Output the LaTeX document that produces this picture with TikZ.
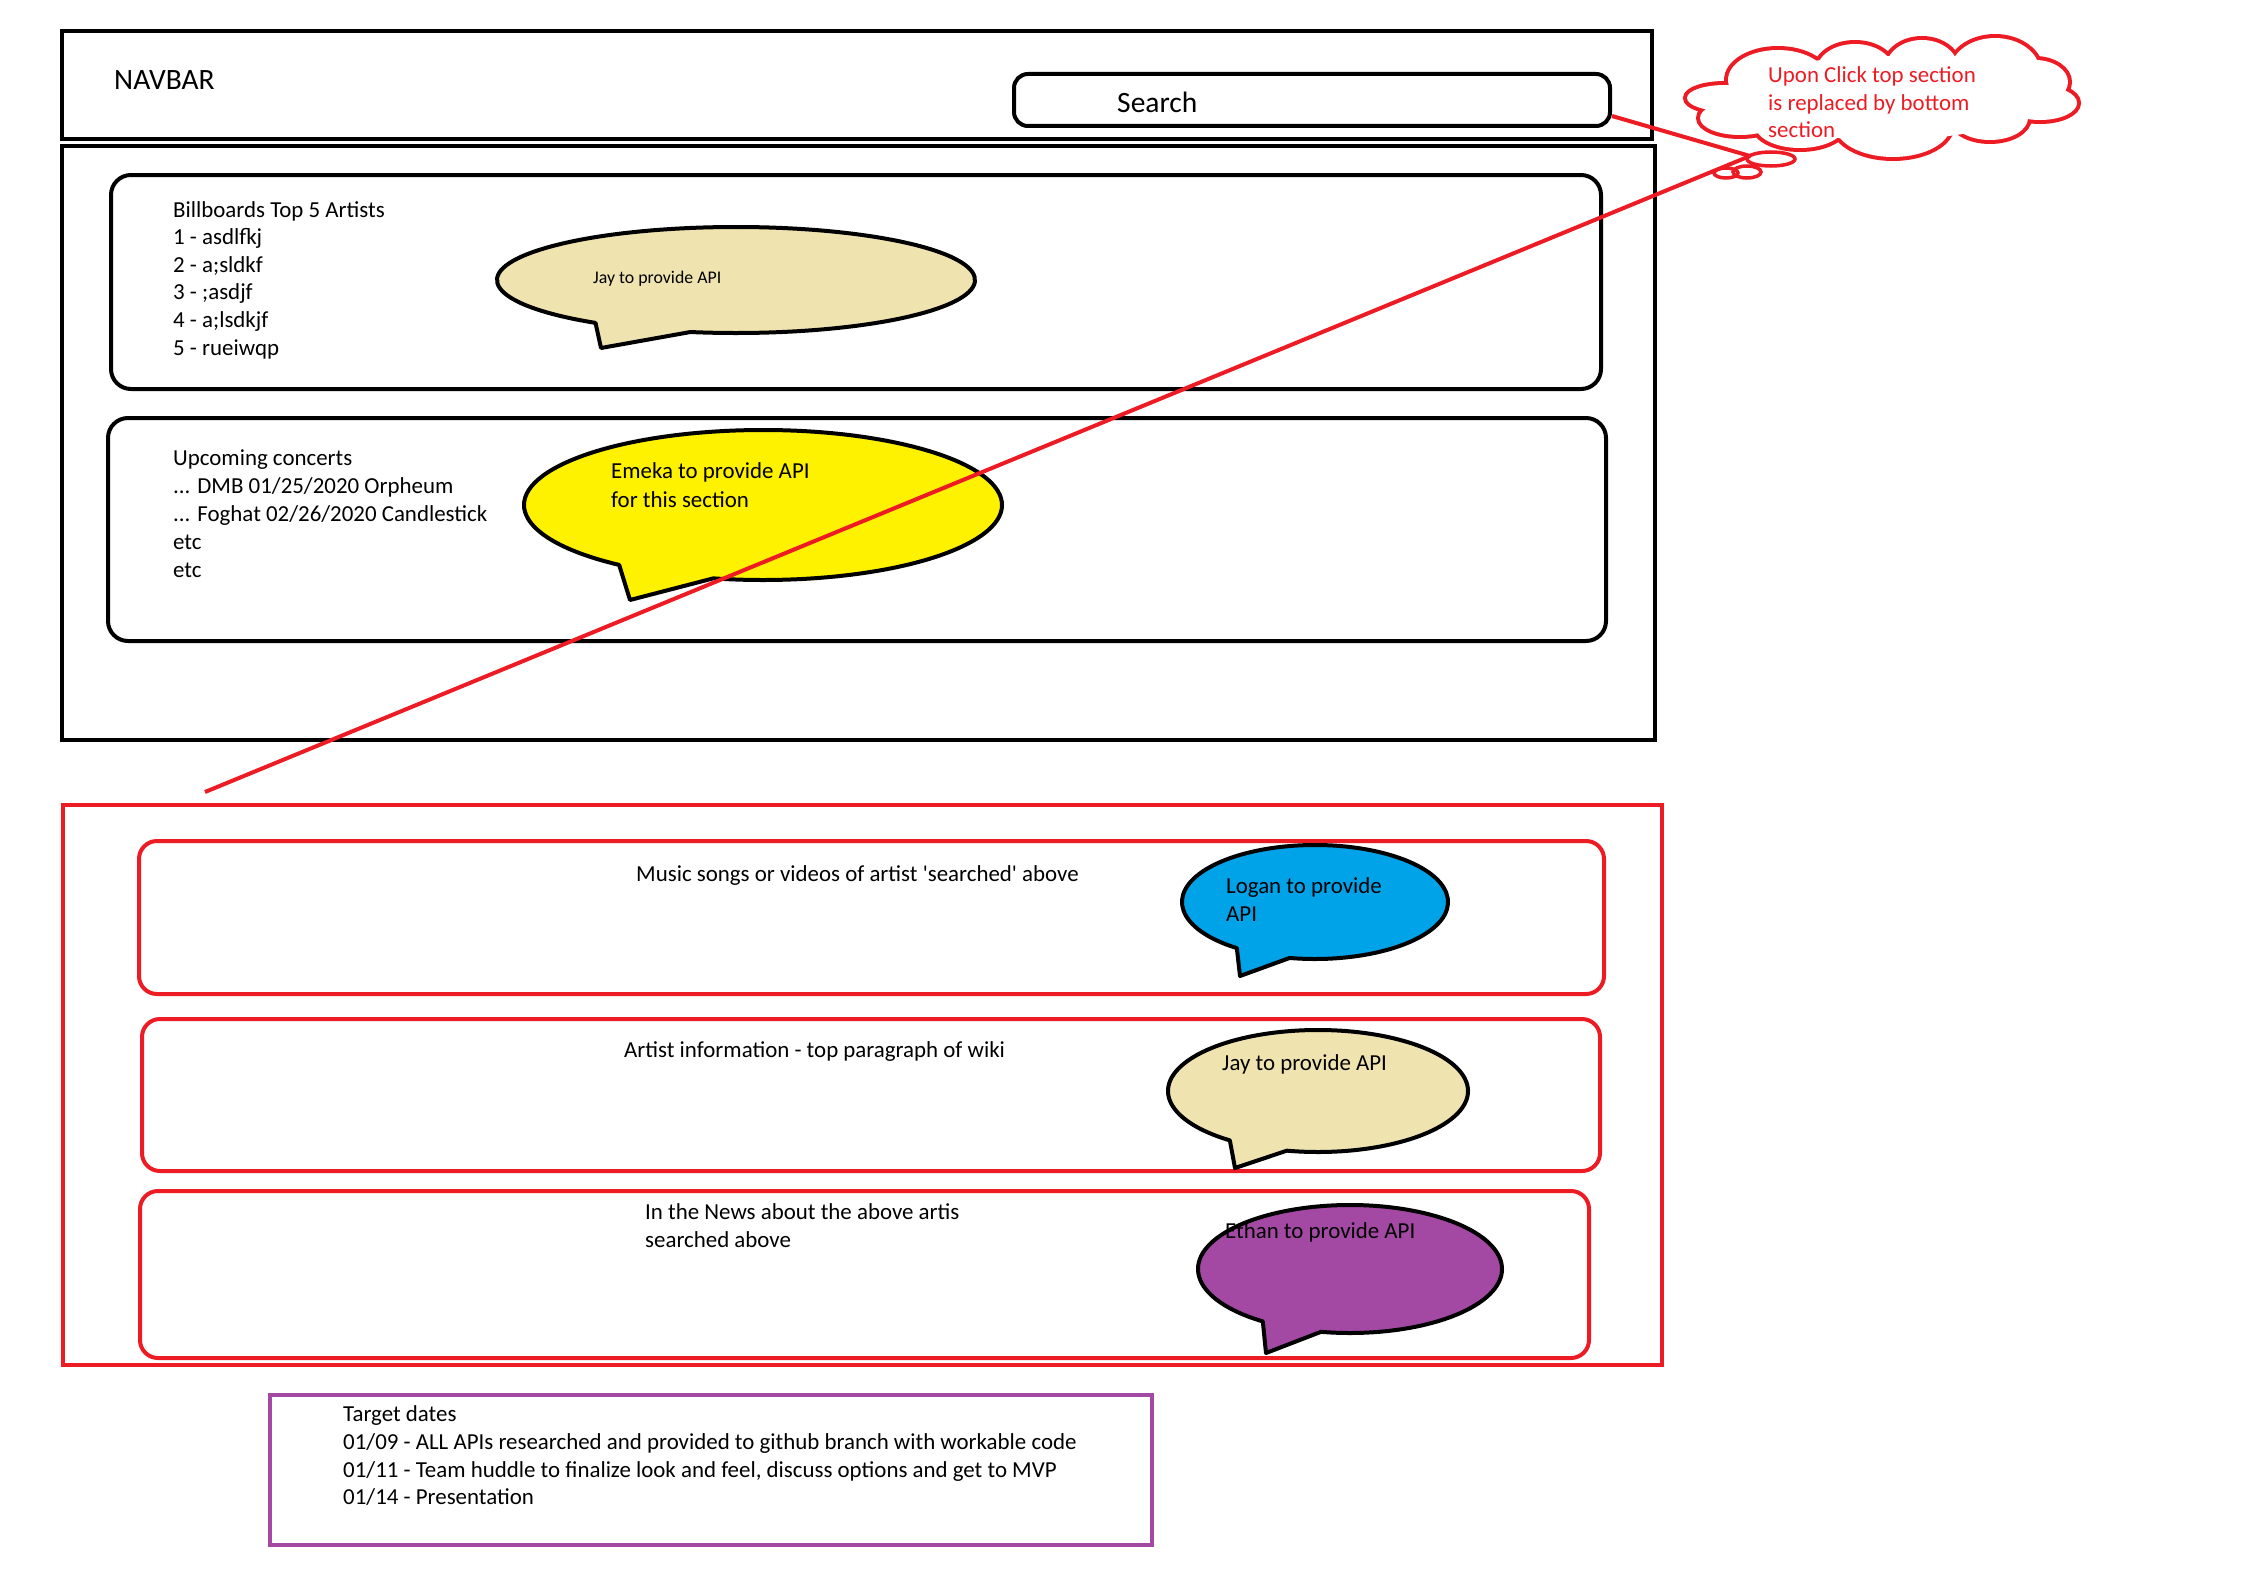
\documentclass[tikz,border=0pt]{standalone}
\usepackage{fontspec}
\setmainfont{Carlito}
\definecolor{pred}{HTML}{ED1C24}
\definecolor{ptan}{HTML}{EFE4B0}
\definecolor{pyellow}{HTML}{FFF200}
\definecolor{pblue}{HTML}{00A2E8}
\definecolor{ppurple}{HTML}{A349A4}
\begin{document}
\begin{tikzpicture}[x=1pt,y=-1pt,
  frame/.style={draw=black, line width=4pt},
  card/.style={draw=black, line width=4pt, rounded corners=20pt},
  rframe/.style={draw=pred, line width=4pt},
  rcard/.style={draw=pred, line width=4pt, rounded corners=18pt},
  txt/.style={font=\fontsize{22.9}{28}\selectfont, inner sep=0pt, anchor=base west},
  bigtxt/.style={font=\fontsize{29.5}{36}\selectfont, inner sep=0pt, anchor=base west},
  smalltxt/.style={font=\fontsize{17.8}{22}\selectfont, inner sep=0pt, anchor=base west},
  bubble/.style={draw=black, line width=4pt, line join=round},
  link/.style={draw=pred, line width=4pt},
  puffline/.style={draw=pred, line width=8pt},
  pufffill/.style={fill=white},
]
\useasboundingbox[fill=white] (0,0) rectangle (2246,1592);

% ---------- top section ----------
\draw[frame] (62,31) rectangle (1652,139);
\draw[frame] (62,146) rectangle (1655,740);
\node[bigtxt] (navbar) at (114,90) {NAVBAR};
\node[draw=black, line width=4pt, rounded corners=14pt, minimum width=596pt,
      minimum height=52pt, inner sep=0pt] (search) at (1312,100) {};
\node[bigtxt] (searchtxt) at (1117,113) {Search};

\draw[card] (111,175) rectangle (1601,389);
\foreach \t [count=\i from 0] in {Billboards Top 5 Artists, 1 - asdlfkj, 2 - a;sldkf, 3 - ;asdjf, 4 - a;lsdkjf, 5 - rueiwqp}
  \node[txt, name=bb\i] at (173,217+27.6*\i) {\t};

\draw[bubble, fill=ptan] (736,280) ++(126:239 and 53)
  arc[start angle=126, end angle=461, x radius=239, y radius=53] -- (601,348) -- cycle;
\node[smalltxt] (jayone) at (593,283) {Jay to provide API};

\draw[card] (108,418) rectangle (1606,641);
\node[txt] (uc0) at (173,465) {Upcoming concerts};
\node[txt] (uc1) at (173,493) {... DMB 01/25/2020 Orpheum};
\node[txt] (uc2) at (173,521) {... Foghat 02/26/2020 Candlestick};
\node[txt] (uc3) at (173,549) {etc};
\node[txt] (uc4) at (173,577) {etc};

\draw[bubble, fill=pyellow] (763,505) ++(127:239 and 75)
  arc[start angle=127, end angle=462, x radius=239, y radius=75] -- (630,600) -- cycle;
\node[txt] (emeka1) at (611,478) {Emeka to provide API};
\node[txt] (emeka2) at (611,507) {for this section};

% ---------- bottom section ----------
\draw[rframe] (63,805) rectangle (1662,1365);
\draw[rcard] (139,841) rectangle (1604,994);
\draw[rcard] (142,1019) rectangle (1600,1171);
\draw[rcard] (140,1191) rectangle (1589,1358);

\node[txt] (music) at (636,881) {Music songs or videos of artist \textquotesingle searched\textquotesingle{} above};
\node[txt] (artist) at (624,1057) {Artist information - top paragraph of wiki};
\node[txt] (news1) at (645,1219) {In the News about the above artis};
\node[txt] (news2) at (645,1247) {searched above};

\draw[bubble, fill=pblue] (1315,902) ++(126:133 and 57)
  arc[start angle=126, end angle=461, x radius=133, y radius=57] -- (1240,976) -- cycle;
\node[txt] (logan1) at (1226,893) {Logan to provide};
\node[txt] (logan2) at (1226,921) {API};

\draw[bubble, fill=ptan] (1318,1091) ++(126:150 and 61)
  arc[start angle=126, end angle=462, x radius=150, y radius=61] -- (1235,1168) -- cycle;
\node[txt] (jaytwo) at (1222,1070) {Jay to provide API};

\draw[bubble, fill=ppurple] (1350,1269) ++(125:152 and 64)
  arc[start angle=125, end angle=461, x radius=152, y radius=64] -- (1266,1353) -- cycle;
\node[txt] (ethan) at (1225,1238) {Ethan to provide API};

% ---------- target dates ----------
\draw[draw=ppurple, line width=4pt] (270,1395) rectangle (1152,1545);
\node[txt] (td0) at (343,1421) {Target dates};
\node[txt] (td1) at (343,1449) {01/09 - ALL APIs researched and provided to github branch with workable code};
\node[txt] (td2) at (343,1477) {01/11 - Team huddle to finalize look and feel, discuss options and get to MVP};
\node[txt] (td3) at (343,1504) {01/14 - Presentation};

% ---------- cloud note (union of puffs) ----------
\def\puffs{%
  (1778,80) ellipse[x radius=50, y radius=30]
  (1855,70) ellipse[x radius=38, y radius=26]
  (1922,68) ellipse[x radius=36, y radius=28]
  (1995,72) ellipse[x radius=45, y radius=34]
  (2035,82) ellipse[x radius=33, y radius=22]
  (2040,103) ellipse[x radius=37, y radius=17]
  (1990,118) ellipse[x radius=38, y radius=22]
  (1893,125) ellipse[x radius=58, y radius=32]
  (1800,125) ellipse[x radius=45, y radius=23]
  (1740,118) ellipse[x radius=40, y radius=17]
  (1725,98) ellipse[x radius=38, y radius=13]}
\path[puffline] \puffs;
\path[pufffill] \puffs;
\fill[white] (1885,98) ellipse[x radius=150, y radius=42];
\node[txt, text=pred] (c1) at (1768,83) {Upon Click top section};
\node[txt, text=pred] (c2) at (1768,111) {is replaced by bottom};
\node[txt, text=pred] (c3) at (1768,138) {section};
\draw[draw=pred, line width=3.5pt] (1771,159) ellipse[x radius=24, y radius=7];
\draw[draw=pred, line width=3.5pt] (1747,172) ellipse[x radius=14, y radius=6];
\draw[draw=pred, line width=3.5pt] (1726,173) ellipse[x radius=12, y radius=5];

% ---------- connectors ----------
\coordinate (puff) at (1750,156);
\coordinate (lineend) at (205,792);
\draw[link] ([yshift=-16pt]search.east) -- (puff);
\draw[link] (puff) -- (lineend);
\end{tikzpicture}
\end{document}
